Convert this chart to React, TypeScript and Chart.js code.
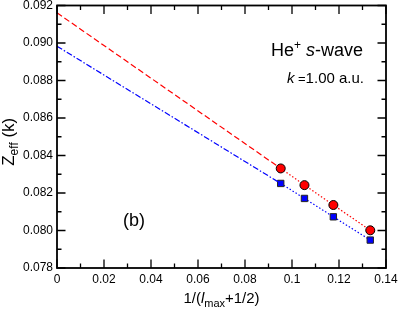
import React, { useEffect, useRef } from "react";
import { Chart, registerables } from "chart.js";

Chart.register(...registerables);

// x = 1/(l_max + 1/2) for l_max = 10, 9, 8, 7
const xPoints = [0.0952, 0.1053, 0.1176, 0.1333];
const redValues = [0.08331, 0.08242, 0.08136, 0.08001];
const blueValues = [0.08251, 0.08171, 0.08073, 0.07949];
// extrapolated values at x = 0
const redIntercept = 0.09161;
const blueIntercept = 0.08983;

const xTickValues = [0, 0.02, 0.04, 0.06, 0.08, 0.1, 0.12, 0.14];
const xTickLabels = ["0", "0.02", "0.04", "0.06", "0.08", "0.1", "0.12", "0.14"];
const yTickValues = [0.078, 0.08, 0.082, 0.084, 0.086, 0.088, 0.09, 0.092];
const yTickLabels = ["0.078", "0.080", "0.082", "0.084", "0.086", "0.088", "0.090", "0.092"];

const FONT = "'Liberation Sans', Arial, Helvetica, sans-serif";

const framePlugin = {
  id: "frameAndText",
  afterDraw(chart: any) {
    const { ctx, chartArea, scales } = chart;
    const { left, right, top, bottom } = chartArea;
    const xs = scales.x;
    const ys = scales.y;
    ctx.save();
    ctx.strokeStyle = "#000";
    ctx.lineWidth = 1.8;
    ctx.strokeRect(left, top, right - left, bottom - top);
    ctx.lineWidth = 1.3;
    // x ticks (major every 0.02, minor every 0.01)
    for (let i = 0; i <= 14; i++) {
      const v = i / 100;
      const px = xs.getPixelForValue(v);
      const len = i % 2 === 0 ? 8.5 : 4.5;
      ctx.beginPath();
      ctx.moveTo(px, bottom);
      ctx.lineTo(px, bottom - len);
      ctx.moveTo(px, top);
      ctx.lineTo(px, top + len);
      ctx.stroke();
    }
    // y ticks (major every 0.002, minor every 0.001)
    for (let i = 78; i <= 92; i++) {
      const v = i / 1000;
      const py = ys.getPixelForValue(v);
      const len = i % 2 === 0 ? 8.5 : 4.5;
      ctx.beginPath();
      ctx.moveTo(left, py);
      ctx.lineTo(left + len, py);
      ctx.moveTo(right, py);
      ctx.lineTo(right - len, py);
      ctx.stroke();
    }

    ctx.fillStyle = "#000";
    ctx.textBaseline = "alphabetic";
    ctx.textAlign = "left";

    // He+ s-wave
    {
      const parts: [string, string, number][] = [
        ["He", `18px ${FONT}`, 0],
        ["+", `12px ${FONT}`, -7],
        [" ", `18px ${FONT}`, 0],
        ["s", `italic 18px ${FONT}`, 0],
        ["-wave", `18px ${FONT}`, 0],
      ];
      let w = 0;
      for (const [t, f] of parts) { ctx.font = f; w += ctx.measureText(t).width; }
      let cx = 363 - w;
      const base = 56;
      for (const [t, f, dy] of parts) {
        ctx.font = f;
        ctx.fillText(t, cx, base + dy);
        cx += ctx.measureText(t).width;
      }
    }
    // k = 1.00 a.u.
    {
      const parts: [string, string][] = [
        ["k", `italic 15px ${FONT}`],
        [" =", `13px ${FONT}`],
        ["1.00 a.u.", `15px ${FONT}`],
      ];
      let w = 0;
      for (const [t, f] of parts) { ctx.font = f; w += ctx.measureText(t).width; }
      let cx = 364 - w;
      const base = 83;
      for (const [t, f] of parts) {
        ctx.font = f;
        ctx.fillText(t, cx, base);
        cx += ctx.measureText(t).width;
      }
    }
    // (b)
    ctx.font = `18px ${FONT}`;
    ctx.fillText("(b)", 123, 226);

    // x title: 1/(l_max+1/2)
    {
      const parts: [string, string, number][] = [
        ["1/(", `15px ${FONT}`, 0],
        ["l", `italic 15px ${FONT}`, 0],
        ["max", `11px ${FONT}`, 4],
        ["+1/2)", `15px ${FONT}`, 0],
      ];
      let w = 0;
      for (const [t, f] of parts) { ctx.font = f; w += ctx.measureText(t).width; }
      let cx = (left + right) / 2 - w / 2;
      const base = 303;
      for (const [t, f, dy] of parts) {
        ctx.font = f;
        ctx.fillText(t, cx, base + dy);
        cx += ctx.measureText(t).width;
      }
    }
    // y title: Z_eff (k)
    {
      const parts: [string, string, number][] = [
        ["Z", `17px ${FONT}`, 0],
        ["eff", `12px ${FONT}`, 4],
        [" (k)", `17px ${FONT}`, 0],
      ];
      let w = 0;
      for (const [t, f] of parts) { ctx.font = f; w += ctx.measureText(t).width; }
      ctx.save();
      ctx.translate(14, (top + bottom) / 2 + 5);
      ctx.rotate(-Math.PI / 2);
      let cx = -w / 2;
      for (const [t, f, dy] of parts) {
        ctx.font = f;
        ctx.fillText(t, cx, dy);
        cx += ctx.measureText(t).width;
      }
      ctx.restore();
    }
    ctx.restore();
  },
};

export default function App() {
  const ref = useRef<HTMLCanvasElement | null>(null);
  useEffect(() => {
    if (!ref.current) return;
    const chart = new Chart(ref.current, {
      type: "scatter",
      data: {
        datasets: [
          {
            data: [{ x: 0, y: redIntercept }, { x: xPoints[0], y: redValues[0] }],
            showLine: true,
            borderColor: "#ff0000",
            borderWidth: 1.2,
            borderDash: [6, 3],
            pointRadius: 0,
          },
          {
            data: [{ x: 0, y: blueIntercept }, { x: xPoints[0], y: blueValues[0] }],
            showLine: true,
            borderColor: "#0000ff",
            borderWidth: 1.2,
            borderDash: [6, 2, 1.5, 2],
            pointRadius: 0,
          },
          {
            data: xPoints.map((x, i) => ({ x, y: redValues[i] })),
            showLine: true,
            borderColor: "#ff0000",
            borderWidth: 1.2,
            borderDash: [1.5, 2],
            pointStyle: "circle",
            pointRadius: 4.5,
            pointBackgroundColor: "#ff0000",
            pointBorderColor: "#000",
            pointBorderWidth: 1,
          },
          {
            data: xPoints.map((x, i) => ({ x, y: blueValues[i] })),
            showLine: true,
            borderColor: "#0000ff",
            borderWidth: 1.2,
            borderDash: [1.5, 2],
            pointStyle: "rect",
            pointRadius: 4.5,
            pointBackgroundColor: "#0000ff",
            pointBorderColor: "#222",
            pointBorderWidth: 1,
          },
        ],
      },
      options: {
        animation: false,
        responsive: false,
        devicePixelRatio: 1,
        layout: { padding: { left: 0, right: 13, top: 5, bottom: 0 } },
        plugins: { legend: { display: false }, tooltip: { enabled: false } },
        scales: {
          x: {
            type: "linear",
            min: 0,
            max: 0.14,
            grid: { display: false, drawTicks: false },
            border: { display: false },
            afterBuildTicks: (s: any) => { s.ticks = xTickValues.map((v) => ({ value: v })); },
            ticks: {
              color: "#000",
              font: { family: FONT, size: 12 },
              padding: 4,
              maxRotation: 0,
              autoSkip: false,
              callback: (v: any) => {
                const i = xTickValues.findIndex((t) => Math.abs(t - v) < 1e-9);
                return i >= 0 ? xTickLabels[i] : "";
              },
            },
            afterFit: (s: any) => {
              s.height = 41;
              s.paddingLeft = 0; s.paddingRight = 0; s.paddingTop = 0; s.paddingBottom = 0;
            },
          },
          y: {
            type: "linear",
            min: 0.078,
            max: 0.092,
            grid: { display: false, drawTicks: false },
            border: { display: false },
            afterBuildTicks: (s: any) => { s.ticks = yTickValues.map((v) => ({ value: v })); },
            ticks: {
              color: "#000",
              font: { family: FONT, size: 12 },
              padding: 4,
              autoSkip: false,
              callback: (v: any) => {
                const i = yTickValues.findIndex((t) => Math.abs(t - v) < 1e-9);
                return i >= 0 ? yTickLabels[i] : "";
              },
            },
            afterFit: (s: any) => {
              s.width = 57;
              s.paddingLeft = 0; s.paddingRight = 0; s.paddingTop = 0; s.paddingBottom = 0;
            },
          },
        },
      },
      plugins: [framePlugin],
    });
    return () => chart.destroy();
  }, []);
  return (
    <canvas
      ref={ref}
      width={399}
      height={309}
      style={{ position: "absolute", left: 0, top: 0, width: 399, height: 309, display: "block" }}
    />
  );
}
